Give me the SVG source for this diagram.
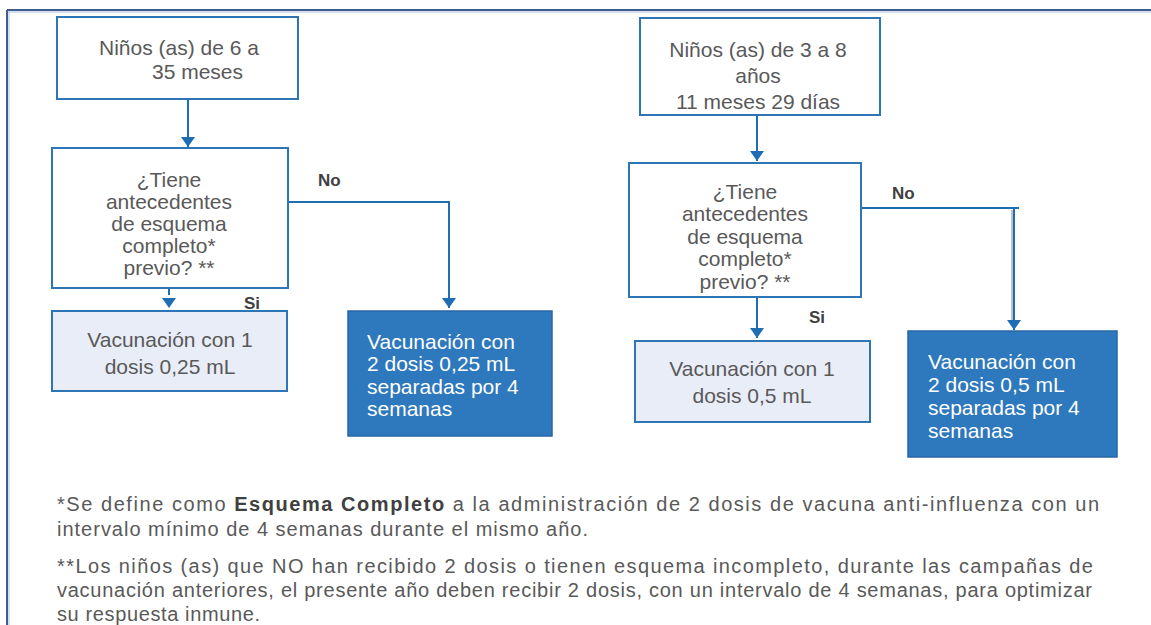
<svg xmlns="http://www.w3.org/2000/svg" width="1151" height="625" viewBox="0 0 1151 625">
<style>
.box{fill:#ffffff;stroke:#2e75b6;stroke-width:2}
.light{fill:#e9edf8;stroke:#2e75b6;stroke-width:2}
.dark{fill:#2e78bd;stroke:#2866a8;stroke-width:1.5}
.t{font-family:"Liberation Sans",Arial,sans-serif;font-size:21px;fill:#595959}
.tw{font-family:"Liberation Sans",Arial,sans-serif;font-size:21px;fill:#ffffff}
.lbl{font-family:"Liberation Sans",Arial,sans-serif;font-size:17px;font-weight:bold;fill:#404040}
.fn{font-family:"Liberation Sans",Arial,sans-serif;font-size:20px;fill:#595959}
.fnb{font-weight:bold;fill:#404040}
.ln{fill:none;stroke:#1f6db2;stroke-width:2}
</style>
<defs>
<marker id="ah" markerWidth="10" markerHeight="14" refX="10" refY="7" orient="auto" markerUnits="userSpaceOnUse" viewBox="0 0 10 14">
<path d="M0,0 L10,7 L0,14 Z" fill="#1f6db2"/>
</marker>
<marker id="ahgap" markerWidth="14" markerHeight="14" refX="0" refY="7" orient="auto" markerUnits="userSpaceOnUse" viewBox="0 0 14 14">
<path d="M3,0 L13,7 L3,14 Z" fill="#1f6db2"/>
</marker>
</defs>
<g id="frame">
<line x1="7" y1="10" x2="1151" y2="10" stroke="#3f5e8e" stroke-width="2"/>
<line x1="8" y1="12" x2="1151" y2="12" stroke="#a9bfe0" stroke-width="1"/>
<line x1="7" y1="10" x2="7" y2="625" stroke="#3f5e8e" stroke-width="2"/>
<line x1="9" y1="12" x2="9" y2="625" stroke="#a9bfe0" stroke-width="1"/>
</g>
<g id="connectors">
<line class="ln" x1="188" y1="100" x2="188" y2="147" marker-end="url(#ah)"/>
<path class="ln" d="M288,202 H449 V308" marker-end="url(#ah)"/>
<line class="ln" x1="169" y1="289" x2="169" y2="295" marker-end="url(#ahgap)"/>
<line class="ln" x1="757" y1="116" x2="757" y2="161" marker-end="url(#ah)"/>
<path class="ln" d="M861,208 H1019"/>
<line x1="1012" y1="210" x2="1012" y2="322" stroke="#8a9bb0" stroke-width="1.2"/>
<line class="ln" x1="1014" y1="208" x2="1014" y2="330" marker-end="url(#ah)"/>
<line class="ln" x1="757" y1="298" x2="757" y2="338" marker-end="url(#ah)"/>
</g>
<g id="lbl-no-left"><text class="lbl" x="318" y="186">No</text></g>
<g id="lbl-si-left"><text class="lbl" x="244" y="309">Si</text></g>
<g id="lbl-no-right"><text class="lbl" x="892" y="199">No</text></g>
<g id="lbl-si-right"><text class="lbl" x="809" y="323">Si</text></g>

<g id="L1">
<rect class="box" x="57" y="17" width="241" height="82"/>
<text class="t" x="99" y="55">Niños (as) de 6 a</text>
<text class="t" x="152" y="79">35 meses</text>
</g>
<g id="L2">
<rect class="box" x="52" y="148" width="236" height="140"/>
<text class="t" text-anchor="middle" x="169" y="187">¿Tiene</text>
<text class="t" text-anchor="middle" x="169" y="209">antecedentes</text>
<text class="t" text-anchor="middle" x="169" y="231">de esquema</text>
<text class="t" text-anchor="middle" x="169" y="253">completo*</text>
<text class="t" text-anchor="middle" x="169" y="275">previo? **</text>
</g>
<g id="L3">
<rect class="light" x="52" y="311" width="235" height="80"/>
<text class="t" text-anchor="middle" x="170" y="347">Vacunación con 1</text>
<text class="t" text-anchor="middle" x="170" y="374">dosis 0,25 mL</text>
</g>
<g id="L4">
<rect class="dark" x="348" y="311" width="204" height="125"/>
<text class="tw" x="367" y="349">Vacunación con</text>
<text class="tw" x="367" y="371">2 dosis 0,25 mL</text>
<text class="tw" x="367" y="394">separadas por 4</text>
<text class="tw" x="367" y="416">semanas</text>
</g>

<g id="R1">
<rect class="box" x="640" y="18" width="240" height="97"/>
<text class="t" text-anchor="middle" x="758" y="57">Niños (as) de 3 a 8</text>
<text class="t" text-anchor="middle" x="758" y="83">años</text>
<text class="t" text-anchor="middle" x="758" y="109">11 meses 29 días</text>
</g>
<g id="R2">
<rect class="box" x="629" y="163" width="232" height="134"/>
<text class="t" text-anchor="middle" x="745" y="199">¿Tiene</text>
<text class="t" text-anchor="middle" x="745" y="221">antecedentes</text>
<text class="t" text-anchor="middle" x="745" y="244">de esquema</text>
<text class="t" text-anchor="middle" x="745" y="266">completo*</text>
<text class="t" text-anchor="middle" x="745" y="289">previo? **</text>
</g>
<g id="R3">
<rect class="light" x="635" y="341" width="235" height="81"/>
<text class="t" text-anchor="middle" x="752" y="376">Vacunación con 1</text>
<text class="t" text-anchor="middle" x="752" y="403">dosis 0,5 mL</text>
</g>
<g id="R4">
<rect class="dark" x="908" y="331" width="209" height="126"/>
<text class="tw" x="928" y="369">Vacunación con</text>
<text class="tw" x="928" y="392">2 dosis 0,5 mL</text>
<text class="tw" x="928" y="415">separadas por 4</text>
<text class="tw" x="928" y="438">semanas</text>
</g>

<g id="footnotes">
<text class="fn" x="57" y="511" textLength="1042" lengthAdjust="spacing">*Se define como <tspan class="fnb">Esquema Completo</tspan> a la administración de 2 dosis de vacuna anti-influenza con un</text>
<text class="fn" x="57" y="536" textLength="531" lengthAdjust="spacing">intervalo mínimo de 4 semanas durante el mismo año.</text>
<text class="fn" x="57" y="573" textLength="1036" lengthAdjust="spacing">**Los niños (as) que NO han recibido 2 dosis o tienen esquema incompleto, durante las campañas de</text>
<text class="fn" x="57" y="597" textLength="1035" lengthAdjust="spacing">vacunación anteriores, el presente año deben recibir 2 dosis, con un intervalo de 4 semanas, para optimizar</text>
<text class="fn" x="57" y="621" textLength="203" lengthAdjust="spacing">su respuesta inmune.</text>
</g>
</svg>
